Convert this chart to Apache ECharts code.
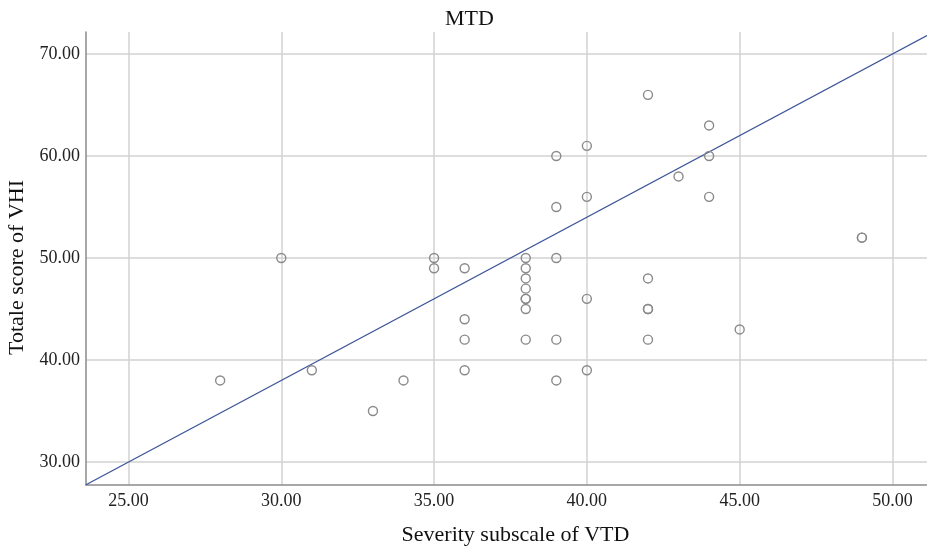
<!DOCTYPE html>
<html>
<head>
<meta charset="utf-8">
<script src="https://cdn.jsdelivr.net/npm/echarts@6/dist/echarts.min.js"></script>
<style>
  html, body { margin: 0; padding: 0; background: #fff; }
  #chart { width: 927px; height: 548px; }
</style>
</head>
<body>
<div id="chart"></div>
<script>
// severity subscale (x) and total VHI (y), one entry per patient
const severity = [28, 30, 31, 33, 34, 35, 35, 36, 36, 36, 36,
  38, 38, 38, 38, 38, 38, 38, 38, 39, 39, 39, 39, 39,
  40, 40, 40, 40, 42, 42, 42, 42, 42, 43, 44, 44, 44, 45, 49, 49]
const vhiTotal = [38, 50, 39, 35, 38, 50, 49, 49, 44, 42, 39,
  50, 49, 48, 47, 46, 46, 45, 42, 60, 55, 50, 42, 38,
  61, 56, 46, 39, 66, 48, 45, 45, 42, 58, 63, 60, 56, 43, 52, 52]

// fit line y = slope * x + intercept
const fitSlope = 1.6
const fitIntercept = -10

const xTicks = [25, 30, 35, 40, 45, 50]
const yTicks = [30, 40, 50, 60, 70]
const xRange = [23.61, 51.13]
const yRange = [27.75, 72.16]

const points = severity.map((x, i) => [x, vhiTotal[i]])
const fitLine = xRange.map(x => [x, fitSlope * x + fitIntercept])

const serif = 'Liberation Serif'
const chart = echarts.init(document.getElementById('chart'))

chart.setOption({
  animation: false,
  backgroundColor: '#fff',
  title: {
    text: 'MTD',
    left: 445,
    top: 8,
    padding: 0,
    textStyle: { fontFamily: serif, fontSize: 22, fontWeight: 'normal', color: '#111' }
  },
  grid: { left: 86, top: 32, right: 0, bottom: 63, outerBoundsMode: 'none' },
  xAxis: {
    type: 'value',
    min: xRange[0],
    max: xRange[1],
    name: 'Severity subscale of VTD',
    nameLocation: 'middle',
    nameGap: 39,
    nameTextStyle: { fontFamily: serif, fontSize: 22, color: '#111', padding: [0, 0, 0, 18] },
    axisLine: { lineStyle: { color: '#8a8a8a', width: 1.5 } },
    axisTick: { show: false, customValues: xTicks },
    axisLabel: {
      customValues: xTicks,
      formatter: v => v.toFixed(2),
      fontFamily: serif, fontSize: 18, color: '#222', margin: 7
    },
    splitLine: { show: true, lineStyle: { color: '#d2d2d2', width: 1.5 } }
  },
  yAxis: {
    type: 'value',
    min: yRange[0],
    max: yRange[1],
    name: 'Totale score of VHI',
    nameLocation: 'middle',
    nameGap: 51,
    nameTextStyle: { fontFamily: serif, fontSize: 22, color: '#111', padding: [0, 18, 0, 0] },
    axisLine: { show: true, lineStyle: { color: '#8a8a8a', width: 1.5 } },
    axisTick: { show: false, customValues: yTicks },
    axisLabel: {
      customValues: yTicks,
      formatter: v => v.toFixed(2),
      fontFamily: serif, fontSize: 18, color: '#222', margin: 6
    },
    splitLine: { show: true, lineStyle: { color: '#d2d2d2', width: 1.5 } }
  },
  series: [
    {
      type: 'line',
      data: fitLine,
      symbol: 'none',
      lineStyle: { color: '#3d5598', width: 1.3 },
      z: 2
    },
    {
      type: 'scatter',
      data: points,
      symbol: 'circle',
      symbolSize: 9,
      itemStyle: { color: 'rgba(0,0,0,0)', borderColor: '#8a8a8a', borderWidth: 1.4, opacity: 1 },
      z: 3
    }
  ]
})
</script>
</body>
</html>
